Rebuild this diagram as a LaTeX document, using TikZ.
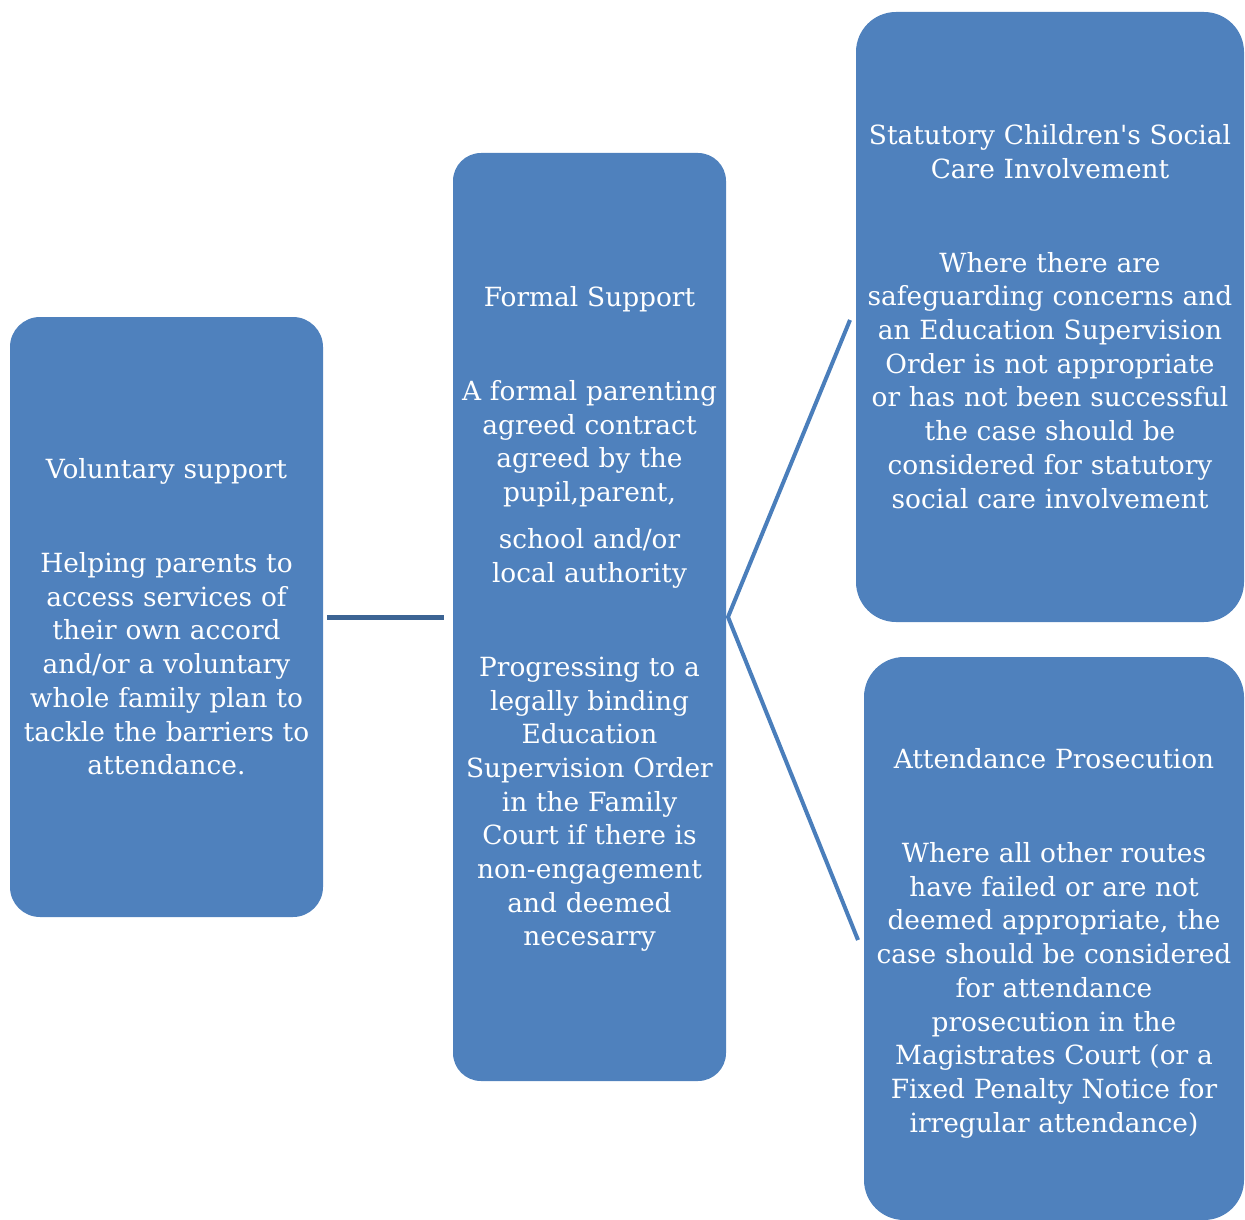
\documentclass[tikz,border=0pt]{standalone}
\usepackage{fontspec}
\setmainfont{DejaVu Serif}
\definecolor{boxblue}{HTML}{4F81BD}
\definecolor{lineblue}{HTML}{4A7EBB}
\definecolor{darkline}{HTML}{3C6494}
\begin{document}
\begin{tikzpicture}[x=1pt,y=-1pt,
  card/.style={fill=boxblue, draw=none, inner sep=0pt, outer sep=0pt,
    rounded corners=#1, anchor=north west},
  txt/.style={text=white, align=center, inner sep=0pt, anchor=base,
    font=\fontsize{26.4}{33.7}\selectfont},
  link/.style={draw=lineblue, line width=4pt},
  hlink/.style={draw=darkline, line width=5pt}]
\useasboundingbox (0,0) rectangle (1245,1220);
% boxes
\node[card=30pt, minimum width=313pt, minimum height=600pt] (vol) at (10,317) {};
\node[card=28pt, minimum width=273pt, minimum height=928pt] (formal) at (453,153) {};
\node[card=40pt, minimum width=388pt, minimum height=610pt] (stat) at (856,12) {};
\node[card=40pt, minimum width=380pt, minimum height=563pt] (pros) at (864,657) {};
% texts
\node[txt, text width=310pt] (voltxt) at (166.5,478.5) {Voluntary support\\[60.3pt]
Helping parents to\\ access services of\\ their own accord\\ and/or a voluntary\\
whole family plan to\\ tackle the barriers to\\ attendance.};
\node[txt, text width=272pt] (formaltxt) at (589.5,306.5) {Formal Support\\[60.3pt]
A formal parenting\\ agreed contract\\ agreed by the\\ pupil,parent,\\[13.3pt]
school and/or\\ local authority\\[60.3pt]
Progressing to a\\ legally binding\\ Education\\ Supervision Order\\ in the Family\\
Court if there is\\ non-engagement\\ and deemed\\ necesarry};
\node[txt, text width=388pt] (stattxt) at (1050,144.5) {Statutory Children\textquotesingle s Social\\ Care Involvement\\[60.3pt]
Where there are\\ safeguarding concerns and\\ an Education Supervision\\ Order is not appropriate\\
or has not been successful\\ the case should be\\ considered for statutory\\ social care involvement};
\node[txt, text width=380pt] (prostxt) at (1054,768.5) {Attendance Prosecution\\[60.3pt]
Where all other routes\\ have failed or are not\\ deemed appropriate, the\\ case should be considered\\
for attendance\\ prosecution in the\\ Magistrates Court (or a\\ Fixed Penalty Notice for\\ irregular attendance)};
% connectors
\coordinate (statend) at (850,320);
\coordinate (prosend) at (858,940);
\draw[hlink, shorten <=4pt, shorten >=9pt] (vol.east) -- (formal.west);
\draw[link] (statend) -- ([xshift=2pt]formal.east) -- (prosend);
\end{tikzpicture}
\end{document}
